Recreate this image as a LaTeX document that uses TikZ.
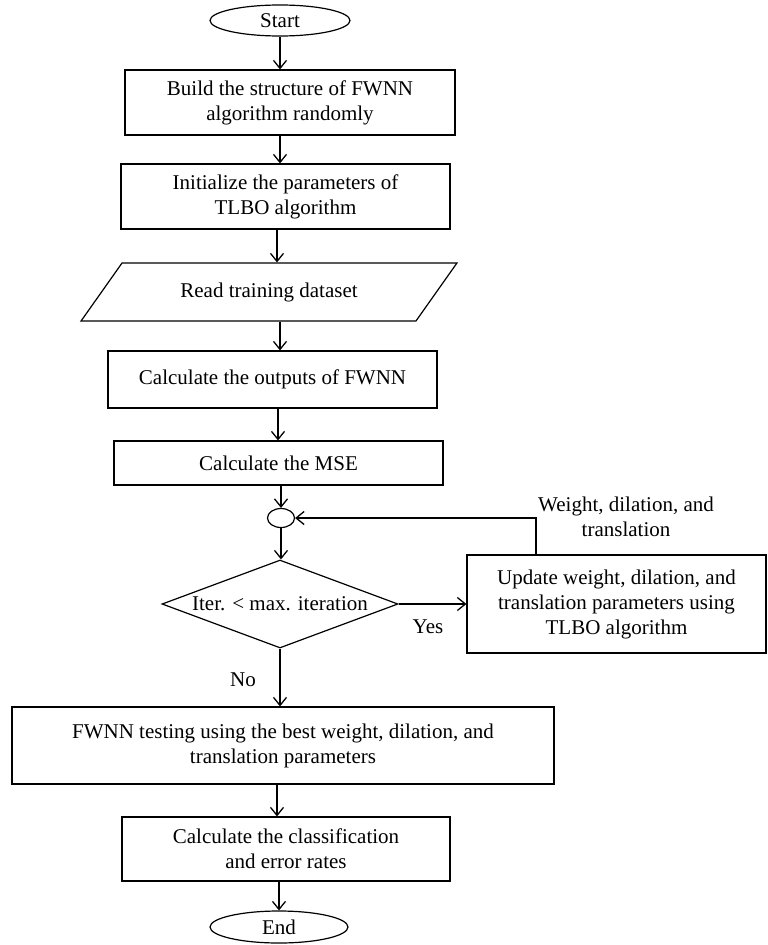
\documentclass[tikz,border=0pt]{standalone}
\usepackage{fontspec}
\setmainfont{Liberation Serif}
\usepackage{tikz}
\usetikzlibrary{shapes.geometric, arrows.meta}

\begin{document}
\begin{tikzpicture}[x=1pt, y=-1pt,
  font=\fontsize{21}{25}\selectfont,
  caja/.style={draw, line width=1.2pt, rectangle, inner sep=0pt, align=center},
  termino/.style={draw, line width=1.2pt, ellipse, inner sep=0pt},
  datos/.style={draw, line width=1.2pt, trapezium, trapezium stretches=true,
    trapezium left angle=37.7, trapezium right angle=142.3, inner sep=0pt},
  decision/.style={draw, line width=1.2pt, diamond, inner sep=0pt, aspect=2.68,
    text height=12pt, text depth=0pt},
  flecha/.style={line width=1.6pt, -{Straight Barb[length=8pt, width=13pt, line width=1.3pt]}}]

% Marco de la figura
\useasboundingbox (0,0) rectangle (768,945);

% Inicio y primeros pasos
\node[termino, minimum width=140, minimum height=31] (start) at (280,20.5) {Start};
\node[caja, minimum width=330, minimum height=65] (build) at (290,102.5)
  {Build the structure of FWNN\\algorithm randomly};
\node[caja, minimum width=329, minimum height=65] (init) at (285.5,196.5)
  {Initialize the parameters of\\TLBO algorithm};
\node[datos, minimum width=376, minimum height=58] (read) at (269,292)
  {Read training dataset};
\node[caja, minimum width=329, minimum height=57] (outputs) at (272.5,379.5)
  {Calculate the outputs of FWNN};
\node[caja, minimum width=329, minimum height=44] (mse) at (278.5,463)
  {Calculate the MSE};

% Bucle de entrenamiento
\node[termino, minimum width=27, minimum height=19] (join) at (281,518) {};
\node[decision, minimum width=236, minimum height=88] (iter) at (280,604)
  {Iter. < max. iteration};
\node[caja, minimum width=299, minimum height=98] (update) at (616.5,604)
  {Update weight, dilation, and\\translation parameters using\\TLBO algorithm};
\node[align=center] (fblabel) at (626,517) {Weight, dilation, and\\translation};
\node (yes) at (428,627) {Yes};
\node (no) at (243,680) {No};

% Prueba y final
\node[caja, minimum width=542, minimum height=77] (test) at (283,745.5)
  {FWNN testing using the best weight, dilation, and\\translation parameters};
\node[caja, minimum width=328, minimum height=64] (rates) at (286,849)
  {Calculate the classification\\and error rates};
\node[termino, minimum width=138, minimum height=32] (finish) at (279,927) {End};

% Conectores
\draw[flecha] (start) -- (start |- build.north);
\draw[flecha] (build.south -| start) -- (start |- init.north);
\draw[flecha] (init.south -| 277,0) -- (277,0 |- read.north);
\draw[flecha] (read.south -| start) -- (start |- outputs.north);
\draw[flecha] (outputs.south -| 278,0) -- (278,0 |- mse.north);
\draw[flecha] (mse.south -| join) -- (join);
\draw[flecha] (join) -- (join |- iter.north);
\draw[flecha] (iter.east) -- (update.west);
\draw[flecha] ([xshift=-80.5pt]update.north) |- (join);
\draw[flecha] (iter) -- (iter |- test.north);
\draw[flecha] (test.south -| 277,0) -- (277,0 |- rates.north);
\draw[flecha] (rates.south -| finish) -- (finish);

\end{tikzpicture}
\end{document}
